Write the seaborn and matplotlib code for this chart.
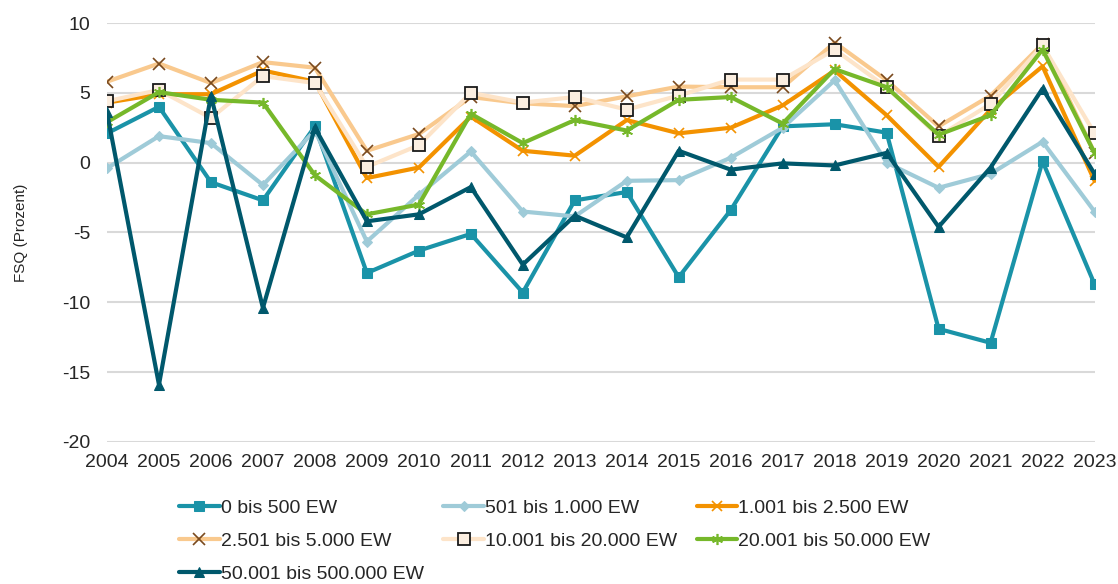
import matplotlib
matplotlib.use("Agg")
import matplotlib.pyplot as plt
import seaborn as sns
import pandas as pd

years = list(range(2004, 2024))

labels = ["0 bis 500 EW", "501 bis 1.000 EW", "1.001 bis 2.500 EW",
          "2.501 bis 5.000 EW", "10.001 bis 20.000 EW", "20.001 bis 50.000 EW",
          "50.001 bis 500.000 EW"]

s_0_500 = [2.1, 4.0, -1.4, -2.7, 2.6, -7.9, -6.3, -5.1, -9.3, -2.7,
           -2.1, -8.2, -3.4, 2.6, 2.75, 2.15, -11.9, -12.9, 0.1, -8.7]
s_501_1000 = [-0.4, 1.9, 1.4, -1.6, 2.3, -5.65, -2.3, 0.8, -3.5, -3.85,
              -1.3, -1.25, 0.35, 2.5, 5.9, 0.0, -1.8, -0.8, 1.5, -3.5]
s_1001_2500 = [4.3, 4.9, 4.9, 6.6, 5.8, -1.1, -0.35, 3.3, 0.85, 0.5,
               3.05, 2.1, 2.5, 4.1, 6.6, 3.4, -0.3, 3.8, 6.9, -1.3]
s_2501_5000 = [5.8, 7.1, 5.7, 7.2, 6.8, 0.85, 2.05, 4.7, 4.25, 4.05,
               4.75, 5.45, 5.4, 5.4, 8.6, 5.9, 2.6, 4.8, 8.5, 0.7]
s_10001_20000 = [4.4, 5.2, 3.2, 6.2, 5.7, -0.3, 1.25, 5.0, 4.3, 4.7,
                 3.8, 4.8, 5.95, 5.95, 8.1, 5.4, 1.9, 4.2, 8.4, 2.1]
s_20001_50000 = [2.9, 5.05, 4.5, 4.3, -0.9, -3.7, -3.0, 3.5, 1.4, 3.05,
                 2.3, 4.5, 4.7, 2.8, 6.7, 5.4, 2.0, 3.4, 8.1, 0.7]
s_50001_500000 = [3.6, -15.9, 4.8, -10.4, 2.5, -4.2, -3.7, -1.75, -7.3, -3.8,
                  -5.35, 0.85, -0.5, -0.05, -0.2, 0.7, -4.6, -0.35, 5.3, -0.8]

series = [s_0_500, s_501_1000, s_1001_2500, s_2501_5000,
          s_10001_20000, s_20001_50000, s_50001_500000]

yticks = [10, 5, 0, -5, -10, -15, -20]

styles = [
    dict(color="#1a93a8", marker="s", markersize=7, markerfacecolor="#1a93a8", markeredgecolor="#1a93a8"),
    dict(color="#9fcbd8", marker="D", markersize=5, markerfacecolor="#9fcbd8", markeredgecolor="#9fcbd8"),
    dict(color="#f39200", marker="x", markersize=7, markerfacecolor="#f39200", markeredgecolor="#f39200", markeredgewidth=1.2),
    dict(color="#f9c98e", marker="x", markersize=8, markerfacecolor="#7a4a1e", markeredgecolor="#7a4a1e", markeredgewidth=1.2),
    dict(color="#fde4c9", marker="s", markersize=8, markerfacecolor="#fbeee0", markeredgecolor="#1a1a1a", markeredgewidth=1.3),
    dict(color="#76b82a", marker=(6, 2, 0), markersize=8, markerfacecolor="#76b82a", markeredgecolor="#76b82a", markeredgewidth=1.2),
    dict(color="#00586c", marker="^", markersize=6.5, markerfacecolor="#00586c", markeredgecolor="#00586c"),
]

sns.set_theme(style="white")
plt.rcParams["font.family"] = ["Liberation Sans", "DejaVu Sans"]

fig = plt.figure(figsize=(11.18, 5.84), dpi=100)
ax = fig.add_axes([0.0957, 0.2432, 0.8833, 0.7174])

for i, (lab, vals, st) in enumerate(zip(labels, series, styles)):
    df = pd.DataFrame({"Jahr": years, "FSQ": vals})
    sns.lineplot(data=df, x="Jahr", y="FSQ", ax=ax, linewidth=3.0,
                 label=lab, zorder=3 + i, **st)

ax.set_xlim(2004, 2023)
ax.set_ylim(-20, 10)
ax.set_yticks(yticks)
ax.set_xticks(years)
ax.set_xticklabels([str(y) for y in years], fontsize=14)
ax.set_yticklabels([str(v) for v in yticks], fontsize=14)
ax.tick_params(axis="x", length=0, pad=9)
ax.tick_params(axis="y", length=0, pad=12)
ax.grid(axis="y", color="#d9d9d9", linewidth=1.5)
ax.grid(axis="x", visible=False)
for sp in ax.spines.values():
    sp.set_visible(False)
ax.set_xlabel("")
ax.set_ylabel("FSQ (Prozent)", fontsize=11)
ax.yaxis.set_label_coords(-0.080, 0.5)

h, l = ax.get_legend_handles_labels()
order = [0, 3, 6, 1, 4, 2, 5]
ax.legend([h[k] for k in order], [l[k] for k in order], ncol=3,
          loc="upper left", bbox_to_anchor=(0.065, -0.118), frameon=False,
          fontsize=14, handlelength=2.1, handletextpad=0.05,
          columnspacing=1.0, labelspacing=0.8, borderaxespad=0)

fig.savefig("out.png", dpi=100)
